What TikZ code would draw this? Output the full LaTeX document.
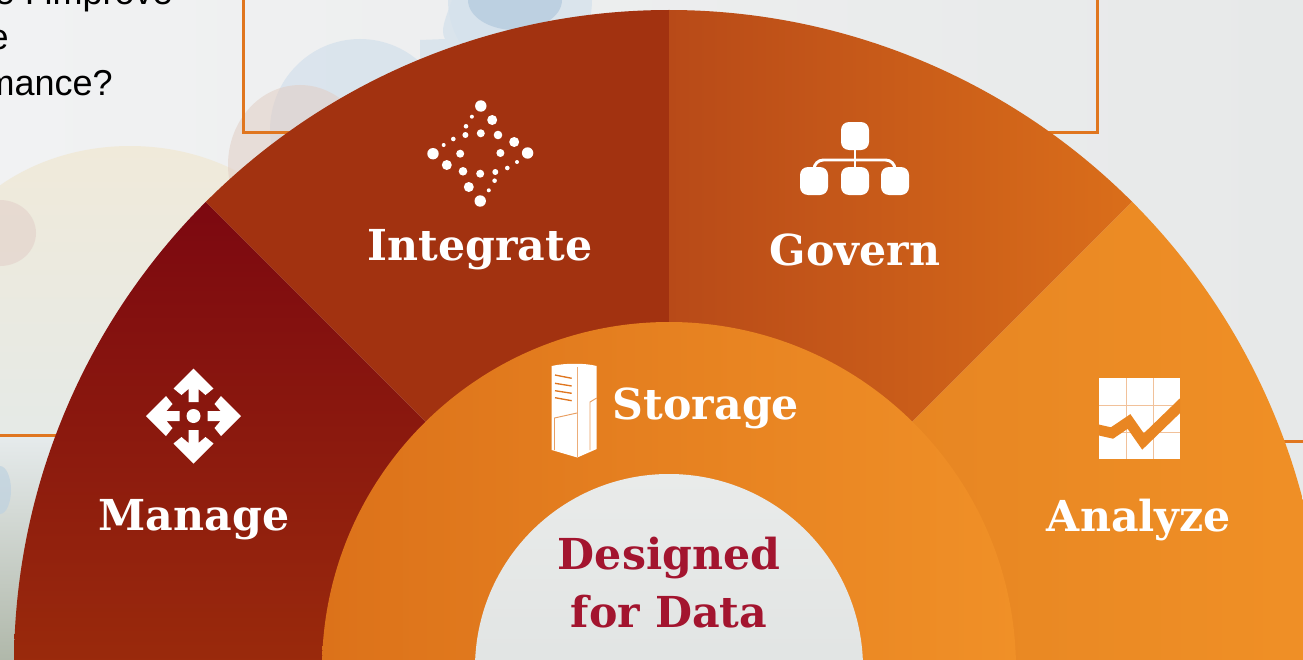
\documentclass[tikz,border=0pt]{standalone}
\usepackage{fontspec}
\setmainfont{Liberation Sans}
\newfontfamily\slabfont{DejaVu Serif}[BoldFont={DejaVu Serif Bold}]
\usepackage{tikz}
\usetikzlibrary{calc}
\definecolor{rulecol}{RGB}{224,118,31}
\definecolor{designedcol}{RGB}{163,21,47}
\definecolor{iconcol}{RGB}{255,255,255}
\tikzset{
  wedgelabel/.style={anchor=center,inner sep=0.75pt,text=white,font=\slabfont\bfseries\fontsize{32}{36}\selectfont},
  designedlabel/.style={anchor=center,inner sep=0.75pt,text=designedcol,font=\slabfont\bfseries\fontsize{32}{36}\selectfont},
  bodylabel/.style={anchor=base east,inner sep=0pt,text=black,font=\fontsize{27}{32}\selectfont},
  orangerule/.style={draw=rulecol,line width=2.25pt},
}

\begin{document}
\begin{tikzpicture}[x=0.75pt,y=0.75pt,yscale=-1,xscale=1]
\useasboundingbox (0,0) rectangle (1303,660);
\clip (0,0) rectangle (1303,660);

%Background
\shade [left color={rgb,255:red,241;green,242;blue,243}, right color={rgb,255:red,231;green,233;blue,233}] (0,0) rectangle (1303,660);
%Shape: Ellipse, cream
\shade [top color={rgb,255:red,240;green,234;blue,218}, bottom color={rgb,255:red,228;green,234;blue,232}] (130,310) ellipse (200 and 164);
%Shape: Ellipse, pink
\fill [fill={rgb,255:red,226;green,206;blue,200}, fill opacity=0.55] (0,233) ellipse (36 and 33);
%Lower left corner
\shade [top color={rgb,255:red,230;green,235;blue,236}, bottom color={rgb,255:red,176;green,184;blue,170}] (0,436) rectangle (110,660);
\fill [fill={rgb,255:red,190;green,210;blue,224}, fill opacity=0.7] (0,490) ellipse (11 and 24);
%Shape: blue shapes behind the box
\fill [fill={rgb,255:red,214;green,226;blue,236}, fill opacity=0.8] (360,130) ellipse (90 and 91);
\fill [fill={rgb,255:red,214;green,226;blue,236}, fill opacity=0.8] (520,0) ellipse (72 and 78);
\fill [fill={rgb,255:red,214;green,226;blue,236}, fill opacity=0.8] (420,40) -- (445,39) .. controls (440,30) and (445,20) .. (452,0) -- (520,0) -- (520,80) -- (420,80) -- cycle;
\fill [fill={rgb,255:red,180;green,202;blue,222}, fill opacity=0.75] (515,0) ellipse (47 and 30);
%Shape: pink shape behind the box
\fill [fill={rgb,255:red,226;green,206;blue,196}, fill opacity=0.55] (300,165) ellipse (72 and 80);

%Straight Lines: frame and side rules
\draw [orangerule] (243,-5) -- (243,132) -- (1097,132) -- (1097,-5);
\draw [orangerule] (-5,435) -- (100,435);
\draw [orangerule] (1240,441) -- (1310,441);

%Shape: wedge Manage
\shade [top color={rgb,255:red,124;green,8;blue,16}, middle color={rgb,255:red,146;green,28;blue,14}, bottom color={rgb,255:red,154;green,42;blue,12}] (669,665) -- ++(-180:655) arc [start angle=-180, end angle=-135, radius=655] -- cycle;
%Shape: wedge Integrate
\fill [fill={rgb,255:red,162;green,50;blue,16}] (669,665) -- ++(-135:655) arc [start angle=-135, end angle=-90, radius=655] -- cycle;
%Shape: wedge Govern
\shade [shading angle=80, left color={rgb,255:red,184;green,74;blue,24}, right color={rgb,255:red,218;green,110;blue,26}] (669,665) -- ++(-90:655) arc [start angle=-90, end angle=-45, radius=655] -- cycle;
%Shape: wedge Analyze
\shade [left color={rgb,255:red,226;green,128;blue,32}, right color={rgb,255:red,240;green,144;blue,38}] (669,665) -- ++(-45:655) arc [start angle=-45, end angle=0, radius=655] -- cycle;
%Shape: Circle, Storage ring
\shade [left color={rgb,255:red,220;green,114;blue,26}, right color={rgb,255:red,240;green,144;blue,39}] (669,669) circle (347);
%Shape: Circle, centre
\shade [top color={rgb,255:red,233;green,235;blue,234}, bottom color={rgb,255:red,218;green,222;blue,221}] (669,668) circle (194);

%Icon Integrate: dots
\fill [iconcol] (480.8,106) circle (5.7);
\fill [iconcol] (492.2,120) circle (5);
\fill [iconcol] (471.9,116.7) circle (2);
\fill [iconcol] (466,126.3) circle (2.3);
\fill [iconcol] (465.4,135) circle (3);
\fill [iconcol] (480.8,133.3) circle (4);
\fill [iconcol] (498,135) circle (4.3);
\fill [iconcol] (514.2,142) circle (5);
\fill [iconcol] (527.6,153) circle (5.7);
\fill [iconcol] (453.3,139) circle (2.3);
\fill [iconcol] (443.7,145) circle (2);
\fill [iconcol] (433,153.7) circle (5.7);
\fill [iconcol] (460.2,153.7) circle (4);
\fill [iconcol] (500.4,153) circle (4);
\fill [iconcol] (446.8,165) circle (5);
\fill [iconcol] (517,162) circle (2);
\fill [iconcol] (507.3,168) circle (2.3);
\fill [iconcol] (463,171.3) circle (4.3);
\fill [iconcol] (480.2,173.7) circle (4);
\fill [iconcol] (495.3,172) circle (3);
\fill [iconcol] (494.6,180.7) circle (2.3);
\fill [iconcol] (468.8,187) circle (5);
\fill [iconcol] (488.8,190.3) circle (2);
\fill [iconcol] (480.2,201) circle (5.7);

%Icon Govern: boxes and lines
\fill [iconcol, rounded corners=6] (841,122) rectangle (869,150);
\fill [iconcol, rounded corners=6] (800,167) rectangle (828,195);
\fill [iconcol, rounded corners=6] (841,167) rectangle (869,195);
\fill [iconcol, rounded corners=6] (881,167) rectangle (909,195);
\draw [iconcol, line width=2.2pt] (855,150) -- (855,167);
\draw [iconcol, line width=2.2pt, rounded corners=7] (814,170) -- (814,160) -- (895,160) -- (895,170);

%Icon Manage: four arrows and a dot
\fill [iconcol] (193.5,416) circle (7);
\fill [iconcol, shift={(193.5,416)}, rotate=0] (0,-47.5) -- (20,-27.5) -- (12,-21) -- (5,-27) -- (5,-14) -- (-5,-14) -- (-5,-27) -- (-12,-21) -- (-20,-27.5) -- cycle;
\fill [iconcol, shift={(193.5,416)}, rotate=90] (0,-47.5) -- (20,-27.5) -- (12,-21) -- (5,-27) -- (5,-14) -- (-5,-14) -- (-5,-27) -- (-12,-21) -- (-20,-27.5) -- cycle;
\fill [iconcol, shift={(193.5,416)}, rotate=180] (0,-47.5) -- (20,-27.5) -- (12,-21) -- (5,-27) -- (5,-14) -- (-5,-14) -- (-5,-27) -- (-12,-21) -- (-20,-27.5) -- cycle;
\fill [iconcol, shift={(193.5,416)}, rotate=270] (0,-47.5) -- (20,-27.5) -- (12,-21) -- (5,-27) -- (5,-14) -- (-5,-14) -- (-5,-27) -- (-12,-21) -- (-20,-27.5) -- cycle;

%Icon Analyze: grid with a line through it
\fill [iconcol] (1099,378) rectangle (1180,459);
\draw [rulecol!45, line width=0.7pt] (1126,378) -- (1126,459);
\draw [rulecol!45, line width=0.7pt] (1153,378) -- (1153,459);
\draw [rulecol!45, line width=0.7pt] (1099,405) -- (1180,405);
\draw [rulecol!45, line width=0.7pt] (1099,432) -- (1180,432);
\begin{scope}
\clip (1099,378) rectangle (1180,459);
\draw [draw={rgb,255:red,233;green,134;blue,34}, line width=8pt, line join=miter] (1090,428) -- (1112,433) -- (1129,421.5) -- (1143,441.5) -- (1190,396);
\end{scope}

%Icon Storage: tower
\fill [iconcol] (551.7,366) .. controls (565,363) and (585,363) .. (596.7,366) -- (596.7,449) -- (577.3,457.5) -- (551.7,450) -- cycle;
\draw [rulecol!60, line width=0.7pt] (577.3,367) -- (577.3,457);
\draw [rulecol, line width=1pt] (555,375) -- (571.7,378.3);
\draw [rulecol, line width=1pt] (555,383.3) -- (571.7,386);
\draw [rulecol, line width=1pt] (555,390.7) -- (571.7,393.3);
\draw [rulecol, line width=1pt] (555,397.7) -- (571.7,400.7);
\draw [rulecol!70, line width=0.7pt] (554.5,450) -- (554.5,418) -- (577,413);
\draw [rulecol!70, line width=0.7pt] (590,450) -- (590,402) -- (596.7,398);

% Text Node
\draw (173,5) node (txtimprove) [bodylabel] {e I improve};
% Text Node
\draw (9,50) node (txtmiddle) [bodylabel] {e};
% Text Node
\draw (113,95) node (txtmance) [bodylabel] {mance?};
% Text Node
\draw (480,250) node (integrate) [wedgelabel] {Integrate};
% Text Node
\draw (855,250) node (govern) [wedgelabel] {Govern};
% Text Node
\draw (194,520) node (manage) [wedgelabel] {Manage};
% Text Node
\draw (1139,520) node (analyze) [wedgelabel] {Analyze};
% Text Node
\draw (706,408) node (storage) [wedgelabel] {Storage};
% Text Node
\draw (669,558) node (designed) [designedlabel] {Designed};
% Text Node
\draw (669,612) node (fordata) [designedlabel] {for Data};

\end{tikzpicture}
\end{document}
